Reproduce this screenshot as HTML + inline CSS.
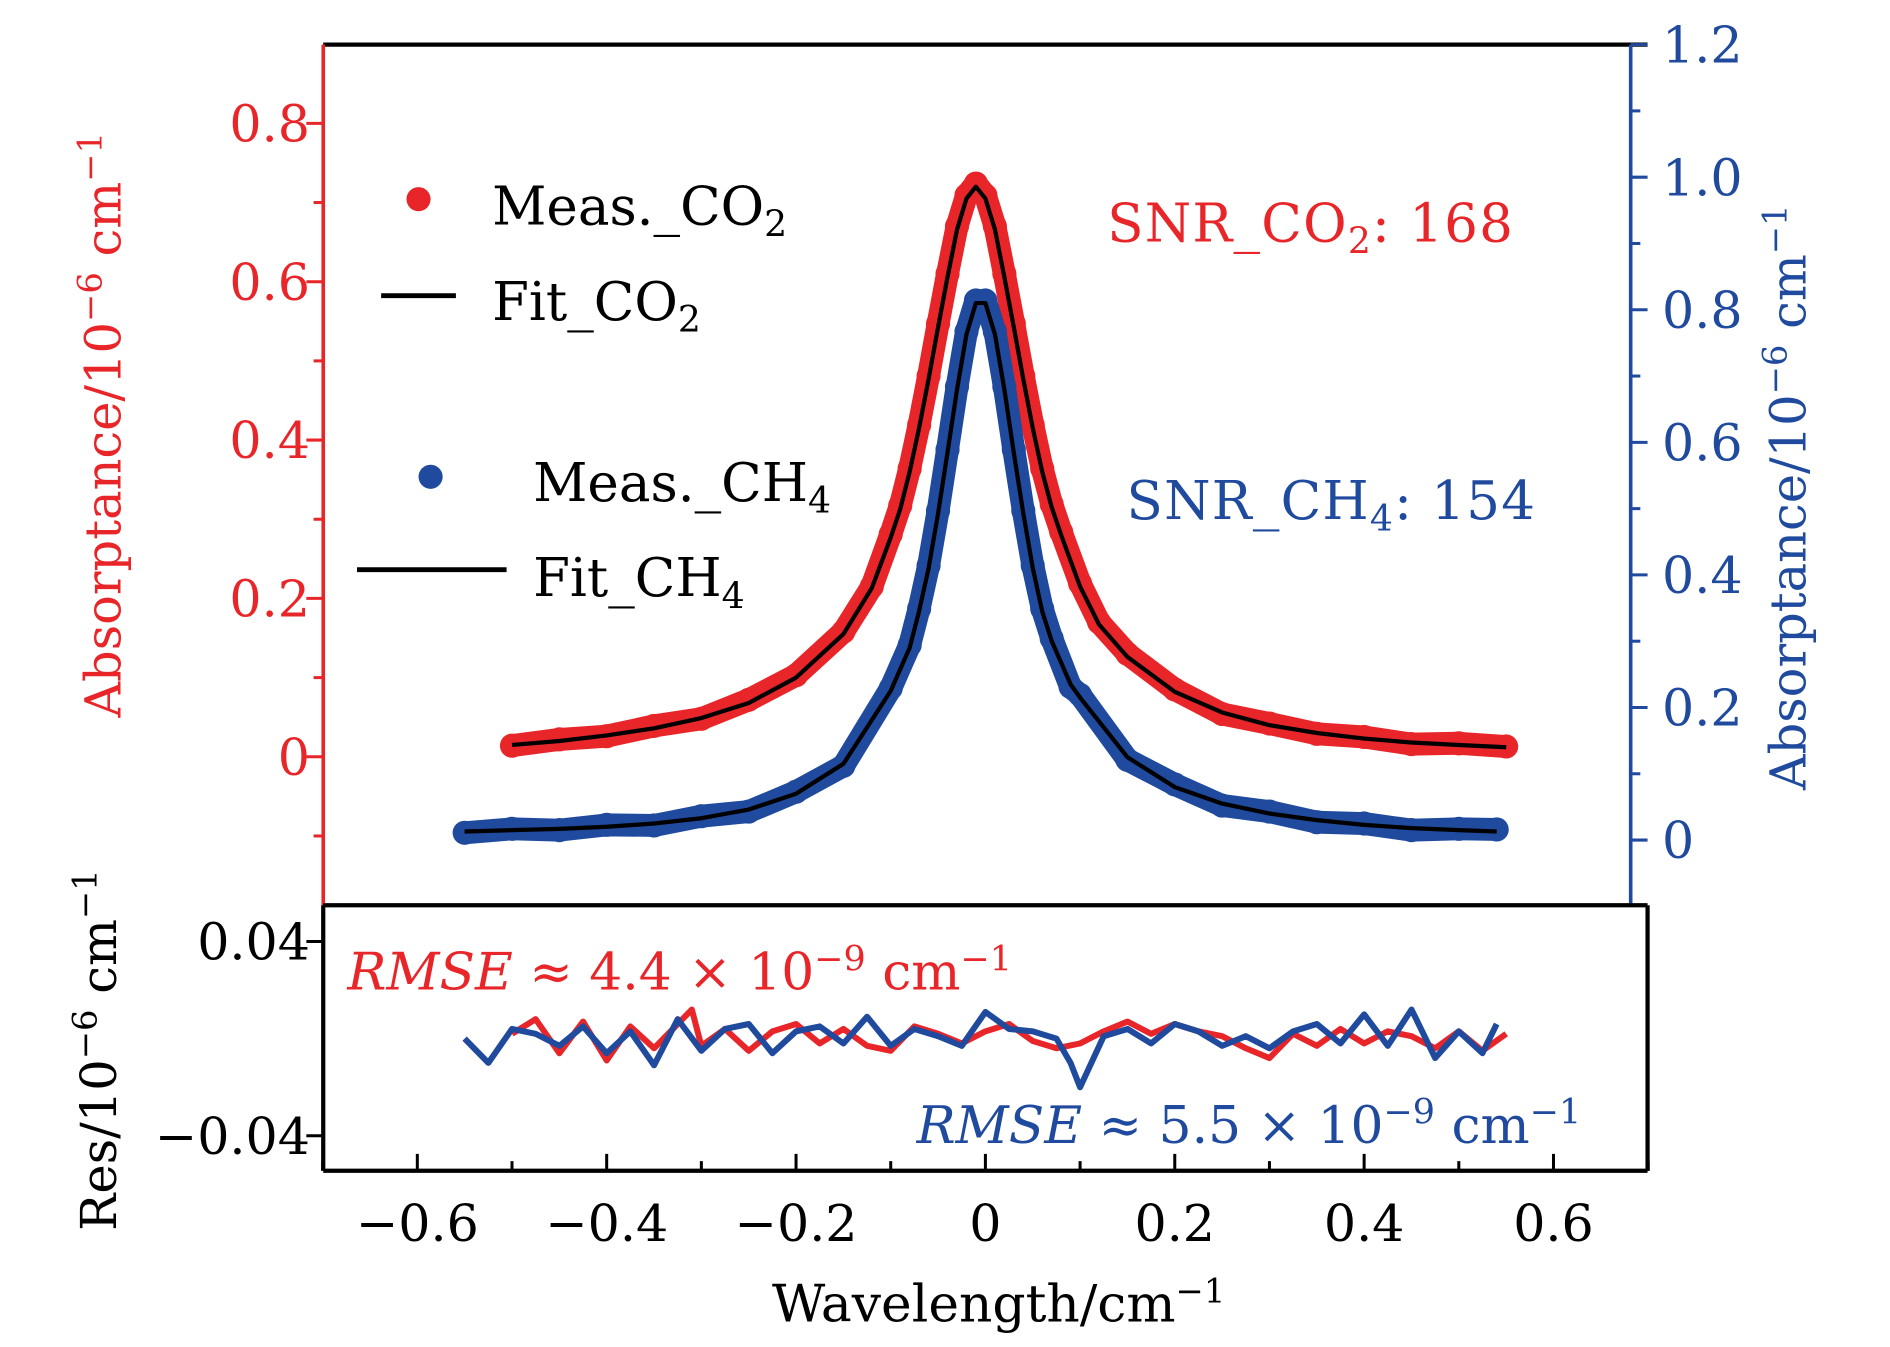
<!DOCTYPE html>
<html><head><meta charset="utf-8">
<style>
html,body{margin:0;padding:0;background:#fff;}
svg{display:block;}
text{font-family:"DejaVu Serif","Liberation Serif",serif;}
</style></head>
<body>
<svg id="chart" width="1890" height="1347" viewBox="0 0 1567 1116" preserveAspectRatio="none" xmlns="http://www.w3.org/2000/svg">
<g id="marks"></g>
<g id="axes"></g>
</svg>
<script>
// ---- data ----
const co2X = [-0.5,-0.45,-0.4,-0.35,-0.3,-0.25,-0.2,-0.15,-0.12,-0.1,-0.09,-0.08,-0.07,-0.06,-0.05,-0.04,-0.03,-0.02,-0.01,0,0.01,0.02,0.03,0.04,0.05,0.06,0.07,0.08,0.1,0.12,0.15,0.2,0.25,0.3,0.35,0.4,0.45,0.5,0.55];
const co2Fit = [0.015,0.02,0.027,0.036,0.049,0.068,0.1,0.155,0.213,0.277,0.313,0.36,0.415,0.477,0.543,0.606,0.666,0.705,0.72,0.705,0.666,0.606,0.543,0.477,0.415,0.36,0.315,0.28,0.215,0.167,0.126,0.082,0.056,0.04,0.03,0.023,0.018,0.015,0.012];
const co2Meas = [0.014,0.022,0.026,0.039,0.048,0.072,0.103,0.158,0.215,0.281,0.317,0.364,0.419,0.481,0.547,0.61,0.67,0.709,0.724,0.709,0.67,0.61,0.547,0.481,0.419,0.364,0.319,0.284,0.219,0.17,0.13,0.085,0.054,0.042,0.029,0.025,0.016,0.017,0.013];
const ch4X = [-0.55,-0.5,-0.45,-0.4,-0.35,-0.3,-0.25,-0.2,-0.15,-0.1,-0.08,-0.07,-0.06,-0.05,-0.04,-0.03,-0.02,-0.01,0,0.01,0.02,0.03,0.04,0.05,0.06,0.07,0.09,0.1,0.15,0.2,0.25,0.3,0.35,0.4,0.45,0.5,0.54];
const ch4Fit = [0.013,0.015,0.017,0.02,0.025,0.033,0.046,0.07,0.115,0.225,0.29,0.345,0.41,0.493,0.585,0.68,0.763,0.81,0.81,0.763,0.68,0.585,0.493,0.41,0.345,0.3,0.235,0.215,0.125,0.08,0.055,0.04,0.03,0.023,0.018,0.015,0.013];
const ch4Meas = [0.011,0.017,0.015,0.023,0.022,0.036,0.043,0.073,0.112,0.229,0.294,0.349,0.414,0.497,0.589,0.684,0.767,0.814,0.814,0.767,0.684,0.589,0.497,0.414,0.349,0.304,0.231,0.219,0.121,0.084,0.052,0.043,0.027,0.025,0.015,0.017,0.016];
const resCO2X = [-0.5,-0.475,-0.45,-0.425,-0.4,-0.375,-0.35,-0.325,-0.31,-0.3,-0.275,-0.25,-0.225,-0.2,-0.175,-0.15,-0.125,-0.1,-0.075,-0.05,-0.025,0,0.025,0.05,0.075,0.1,0.125,0.15,0.175,0.2,0.225,0.25,0.275,0.3,0.325,0.35,0.375,0.4,0.425,0.45,0.475,0.5,0.525,0.55];
const resCO2 = [0.002,0.008,-0.006,0.007,-0.009,0.005,-0.004,0.006,0.012,-0.003,0.004,-0.005,0.003,0.006,-0.002,0.004,-0.003,-0.005,0.005,0.002,-0.002,0.003,0.006,-0.001,-0.004,-0.002,0.003,0.007,0.002,0.006,0.003,0.001,-0.004,-0.008,0.002,-0.003,0.004,-0.002,0.003,0.001,-0.004,0.003,-0.005,0.002];
const resCH4X = [-0.55,-0.525,-0.5,-0.475,-0.45,-0.425,-0.4,-0.375,-0.35,-0.325,-0.3,-0.275,-0.25,-0.225,-0.2,-0.175,-0.15,-0.125,-0.1,-0.075,-0.05,-0.025,0,0.025,0.05,0.075,0.09,0.1,0.125,0.15,0.175,0.2,0.225,0.25,0.275,0.3,0.325,0.35,0.375,0.4,0.425,0.45,0.475,0.5,0.525,0.54];
const resCH4 = [0.0,-0.01,0.004,0.002,-0.003,0.005,-0.006,0.003,-0.011,0.008,-0.005,0.004,0.006,-0.006,0.003,0.005,-0.002,0.009,-0.003,0.004,0.001,-0.003,0.011,0.004,0.003,0.0,-0.01,-0.02,0.001,0.004,-0.002,0.006,0.003,-0.003,0.001,-0.004,0.003,0.006,-0.002,0.01,-0.003,0.012,-0.008,0.003,-0.006,0.006];
const xTicks = [-0.6,-0.4,-0.2,0,0.2,0.4,0.6];
const xTickLabels = ["\u22120.6","\u22120.4","\u22120.2","0","0.2","0.4","0.6"];
const leftTicks = [0,0.2,0.4,0.6,0.8];
const leftTickLabels = ["0","0.2","0.4","0.6","0.8"];
const rightTicks = [0,0.2,0.4,0.6,0.8,1.0,1.2];
const rightTickLabels = ["0","0.2","0.4","0.6","0.8","1.0","1.2"];
const resTicks = [-0.04,0.04];
const resTickLabels = ["\u22120.04","0.04"];

// ---- geometry ----
const RED="#e8262a", BLUE="#1f4a9e";
const L=268,R=1366,T=37,MB=750,B=970;
const sx = v => 817 + v*785;
const syL = v => 627 - v*656;
const syR = v => 696 - v*549.2;
const syRes = v => 860.5 - v*2012.5;
const NS="http://www.w3.org/2000/svg";
const marks=document.getElementById('marks'), axes=document.getElementById('axes');
function mk(tag, attrs, parent){const e=document.createElementNS(NS,tag);for(const k in attrs)e.setAttribute(k,attrs[k]);(parent||marks).appendChild(e);return e;}
function pts(xs,ys,fy){return xs.map((x,i)=>sx(x).toFixed(1)+","+fy(ys[i]).toFixed(1)).join(" ");}

let e;
e=mk('polyline',{points:pts(co2X,co2Meas,syL),fill:'none',stroke:RED,'stroke-width':19,'stroke-linejoin':'round','stroke-linecap':'round'});


co2X.forEach((x,i)=>{const c=mk('circle',{cx:sx(x),cy:syL(co2Meas[i]),r:10,fill:RED});

});
e=mk('polyline',{points:pts(ch4X,ch4Meas,syR),fill:'none',stroke:BLUE,'stroke-width':19,'stroke-linejoin':'round','stroke-linecap':'round'});


ch4X.forEach((x,i)=>{const c=mk('circle',{cx:sx(x),cy:syR(ch4Meas[i]),r:10,fill:BLUE});

});
e=mk('polyline',{points:pts(co2X,co2Fit,syL),fill:'none',stroke:'#000','stroke-width':3.5,'stroke-linejoin':'round'});


e=mk('polyline',{points:pts(ch4X,ch4Fit,syR),fill:'none',stroke:'#000','stroke-width':3.5,'stroke-linejoin':'round'});


e=mk('polyline',{points:pts(resCO2X,resCO2,syRes),fill:'none',stroke:RED,'stroke-width':5,'stroke-linejoin':'round'});


e=mk('polyline',{points:pts(resCH4X,resCH4,syRes),fill:'none',stroke:BLUE,'stroke-width':5,'stroke-linejoin':'round'});



function line(x1,y1,x2,y2,c,w,name){const l=mk('line',{x1,y1,x2,y2,stroke:c,'stroke-width':w},axes);

return l;}
line(L,T,R,T,'#000',3.5,'top-border');
line(L,T,L,MB,RED,3,'left-y-axis');
line(R-14,T,R-14,MB,BLUE,3,'right-y-axis');
line(L,MB,R,MB,'#000',3.5,'panel-divider');
line(L,MB,L,B,'#000',3.5,'residual-left-border');
line(R,MB,R,B,'#000',3.5,'residual-right-border');
line(L,B,R,B,'#000',3.5,'x-axis');

function txt(s,x,y,size,color,anchor,name,extra){const t=mk('text',Object.assign({x,y,'font-size':size,fill:color,'text-anchor':anchor||'start'},extra||{}),axes);t.textContent=s;

return t;}

for(let v=-0.7;v<=0.7001;v+=0.1){const major=Math.abs(Math.round(v*10)%2)===0;line(sx(v),B,sx(v),B-(major?14:8),'#000',2.5,'x-tick');}
xTicks.forEach((v,i)=>txt(xTickLabels[i],sx(v),1028,42,'#000','middle','x-tick-label'));
for(let v=-0.1;v<=0.9001;v+=0.1){const major=Math.abs(Math.round(v*10)%2)===0;const y=syL(v);if(y<T||y>MB)continue;line(L,y,L-(major?14:8),y,RED,2.5,'left-tick');}
leftTicks.forEach((v,i)=>txt(leftTickLabels[i],257,syL(v)+15,42,RED,'end','left-tick-label'));
for(let v=-0.1;v<=1.2001;v+=0.1){const major=Math.abs(Math.round(v*10)%2)===0;const y=syR(v);if(y<T-1||y>MB)continue;line(R-14,y,R-14+(major?14:8),y,BLUE,2.5,'right-tick');}
rightTicks.forEach((v,i)=>txt(rightTickLabels[i],1378,syR(v)+15,42,BLUE,'start','right-tick-label'));
resTicks.forEach((v,i)=>{line(L,syRes(v),L-14,syRes(v),'#000',2.5,'residual-tick');txt(resTickLabels[i],257,syRes(v)+15,42,'#000','end','residual-tick-label');});

let t=txt('',0,0,41,RED,'middle','left-y-axis-title',{transform:'translate(100,352) rotate(-90)'});
t.innerHTML='Absorptance/10<tspan dy="-16" font-size="28">\u22126</tspan><tspan dy="16"> cm</tspan><tspan dy="-16" font-size="28">\u22121</tspan>';
t=txt('',0,0,41,BLUE,'middle','right-y-axis-title',{transform:'translate(1497,412) rotate(-90)'});
t.innerHTML='Absorptance/10<tspan dy="-16" font-size="28">\u22126</tspan><tspan dy="16"> cm</tspan><tspan dy="-16" font-size="28">\u22121</tspan>';
t=txt('',0,0,41,'#000','middle','residual-y-axis-title',{transform:'translate(96,870) rotate(-90)'});
t.innerHTML='Res/10<tspan dy="-16" font-size="28">\u22126</tspan><tspan dy="16"> cm</tspan><tspan dy="-16" font-size="28">\u22121</tspan>';
t=txt('',828,1095,43,'#000','middle','x-axis-title');
t.innerHTML='Wavelength/cm<tspan dy="-16" font-size="28">\u22121</tspan>';

const c1=mk('circle',{cx:347,cy:165,r:10,fill:RED},axes);


t=txt('',408,186,44,'#000','start','legend-co2-measured');t.innerHTML='Meas._CO<tspan dy="10" font-size="30">2</tspan>';
line(316,245,378,245,'#000',4,'legend-co2-fit-line');
t=txt('',408,265,44,'#000','start','legend-co2-fit');t.innerHTML='Fit_CO<tspan dy="10" font-size="30">2</tspan>';
const c2=mk('circle',{cx:357,cy:395,r:10,fill:BLUE},axes);


t=txt('',442,415,44,'#000','start','legend-ch4-measured');t.innerHTML='Meas._CH<tspan dy="10" font-size="30">4</tspan>';
line(296,472,420,472,'#000',4,'legend-ch4-fit-line');
t=txt('',442,494,44,'#000','start','legend-ch4-fit');t.innerHTML='Fit_CH<tspan dy="10" font-size="30">4</tspan>';

t=txt('',918,200,44,RED,'start','snr-co2-label',{'letter-spacing':'1'});t.innerHTML='SNR_CO<tspan dy="10" font-size="30">2</tspan><tspan dy="-10">: 168</tspan>';
t=txt('',934,430,44,BLUE,'start','snr-ch4-label',{'letter-spacing':'1'});t.innerHTML='SNR_CH<tspan dy="10" font-size="30">4</tspan><tspan dy="-10">: 154</tspan>';
t=txt('',288,820,43,RED,'start','rmse-co2-label');t.innerHTML='<tspan font-style="italic">RMSE</tspan> \u2248 4.4 \u00d7 10<tspan dy="-16" font-size="29">\u22129</tspan><tspan dy="16">  cm</tspan><tspan dy="-16" font-size="29">\u22121</tspan>';
t=txt('',760,947,43,BLUE,'start','rmse-ch4-label');t.innerHTML='<tspan font-style="italic">RMSE</tspan> \u2248 5.5 \u00d7 10<tspan dy="-16" font-size="29">\u22129</tspan><tspan dy="16">  cm</tspan><tspan dy="-16" font-size="29">\u22121</tspan>';
</script>
</body></html>
